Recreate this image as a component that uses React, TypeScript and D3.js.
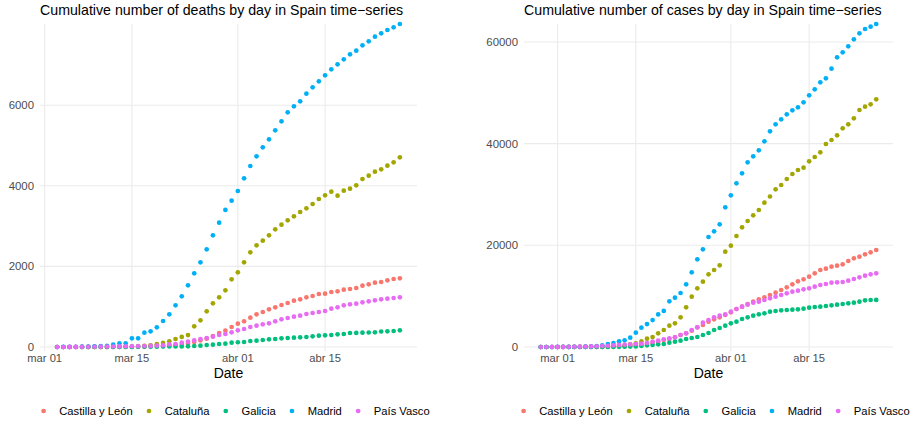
import React from "react";
import * as d3 from "d3";

const REGIONS = ["Castilla y León", "Cataluña", "Galicia", "Madrid", "País Vasco"];
const COLORS = ["#F8766D", "#A3A500", "#00BF7D", "#00B0F6", "#E76BF3"];

const X_TICK_DATES = ["2020-03-01", "2020-03-15", "2020-04-01", "2020-04-15"];
const X_TICK_LABELS = ["mar 01", "mar 15", "abr 01", "abr 15"];

// Deaths: daily from 2020-03-03 to 2020-04-27
const DEATHS_START = "2020-03-03";
const deathsCastilla = [0,0,0,0,0,0,1,2,3,3,5,5,6,10,12,17,22,30,40,48,
  58,83,124,165,207,273,347,405,496,579,637,728,810,868,935,984,1042,1092,1150,1183,1232,1265,1315,1323,1365,1381,1422,1439,1464,1522,1555,1596,1613,1654,1687,1704];
const deathsCataluna = [0,0,0,0,1,1,2,3,3,5,5,10,12,15,28,40,
  70,100,140,198,250,295,513,662,885,1083,1232,1406,1679,1852,2100,2349,2522,2638,2770,2919,3035,3143,3242,3349,3440,3548,3672,3763,3854,3755,3879,3928,4011,4168,4251,4350,4408,4499,4582,4706];
const deathsGalicia = [0,0,0,0,0,0,0,1,1,1,1,2,3,4,5,6,8,10,12,14,15,
  17,25,33,50,58,74,83,108,118,124,149,157,174,190,198,215,223,232,240,248,265,281,289,298,314,323,347,350,355,360,364,385,389,397,414];
const deathsMadrid = [0,1,2,4,8,13,16,21,31,58,91,91,
  215,215,356,389,488,645,810,1034,1257,1530,1828,2100,2423,2770,3085,3400,3630,3870,4185,4491,4731,4954,5152,5376,5599,5822,5971,6095,6285,6442,6591,6740,6889,7013,7137,7261,7352,7484,7584,7699,7782,7865,7931,8014];
const deathsPaisVasco = [0,0,2,3,4,5,6,8,10,12,14,17,18,21,23,27,35,
  41,66,74,108,132,165,198,223,256,298,323,364,414,447,496,529,562,587,637,686,719,753,777,819,844,868,893,951,984,1034,1059,1075,1108,1133,1158,1183,1199,1216,1232];

// Cases: daily from 2020-02-27 to 2020-04-27
const CASES_START = "2020-02-27";
const casesCastilla = [0,0,0,1,2,3,5,8,11,16,23,30,45,70,100,150,220,300,420,
  590,846,1050,1377,1574,1900,2360,2690,3206,3870,4327,4980,5450,5840,6294,6820,7475,7930,8458,8910,9380,9770,10230,10680,11210,11740,12330,12920,13310,13830,14490,15146,15400,15800,15990,16260,16916,17440,17770,18230,18620,19080];
const casesCataluna = [0,0,1,3,6,12,15,24,28,49,75,101,124,156,260,316,509,715,1100,
  1639,1967,2688,3344,4196,4655,5836,7803,9901,11540,12850,14295,15150,16065,18750,19930,21835,23540,24785,25900,26949,28392,29600,31015,31867,33047,34031,34818,35277,36522,37375,38293,39932,40719,41637,43014,43801,44981,46620,47276,47735,48718];
const casesGalicia = [0,0,0,0,0,1,2,3,5,6,10,15,20,30,40,70,90,115,200,
  330,393,525,590,850,1050,1240,1574,1770,1967,2360,2750,3344,3740,4196,4655,4980,5510,5840,6160,6430,6620,6950,7080,7210,7278,7350,7410,7540,7737,7868,7930,8065,8200,8320,8458,8590,8720,8920,9180,9245,9260];
const casesMadrid = [0,0,1,5,10,15,29,49,80,140,200,328,590,787,1115,1311,1836,2820,3800,
  4500,5300,6400,7100,8983,9704,10622,12327,14688,17245,19212,21638,22753,24130,27474,29834,32195,34162,36326,37506,38686,40457,42424,43801,44784,45768,46555,47145,48128,49505,50686,52063,52849,54751,56980,57964,59144,60521,61701,62554,63013,63537];
const casesPaisVasco = [0,1,5,10,20,30,45,60,100,120,150,200,250,330,400,450,500,590,650,
  787,1050,1240,1510,1705,1900,2360,2690,3344,3870,4780,5310,5840,6160,6400,6950,7475,7930,8320,8715,8910,9245,9570,9900,10230,10560,10880,11080,11350,11540,11860,12195,12390,12650,12720,12785,13040,13375,13700,14030,14300,14490];

const DEATHS_TICKS = [0, 2000, 4000, 6000];
const CASES_TICKS = [0, 20000, 40000, 60000];

const FONT = "'Liberation Sans', Arial, Helvetica, sans-serif";
const W = 912;
const H = 424;

const parse = (s: string) => new Date(s + "T00:00:00Z");

function toPoints(start: string, series: number[][]) {
  const s = parse(start);
  const pts: { date: Date; value: number; k: number }[] = [];
  series.forEach((vals, k) => {
    vals.forEach((v, i) => pts.push({ date: d3.utcDay.offset(s, i), value: v, k }));
  });
  return pts;
}

let ctx: CanvasRenderingContext2D | null = null;
function measure(text: string, size: number) {
  if (!ctx) ctx = document.createElement("canvas").getContext("2d");
  if (!ctx) return text.length * size * 0.5;
  ctx.font = `${size}px ${FONT}`;
  return ctx.measureText(text).width;
}

type PanelProps = {
  title: string;
  start: string;
  series: number[][];
  yTicks: number[];
  x0: number;
  x1: number;
};

const Y_TOP = 24;
const Y_ZERO = 347;
const PANEL_BOTTOM = 351;
const R = 2.35;

function Panel({ title, start, series, yTicks, x0, x1 }: PanelProps) {
  const pts = toPoints(start, series);
  const ext = d3.extent(pts, (d) => d.date) as [Date, Date];
  const span = ext[1].getTime() - ext[0].getTime();
  const x = d3
    .scaleUtc()
    .domain([new Date(ext[0].getTime() - span * 0.05), new Date(ext[1].getTime() + span * 0.05)])
    .range([x0, x1]);
  const ymax = d3.max(pts, (d) => d.value) as number;
  const y = d3.scaleLinear().domain([0, ymax]).range([Y_ZERO, Y_TOP]);
  const cx = (x0 + x1) / 2;

  // legend layout
  const LS = 11.2;
  const items = REGIONS.map((r) => ({ r, w: measure(r, LS) }));
  const gapDotText = 15.7;
  const gapTextDot = 16.3;
  let total = 0;
  items.forEach((it, i) => {
    total += gapDotText + it.w + (i < items.length - 1 ? gapTextDot : 0);
  });
  const lx0 = cx + 7 - (total + 2.2) / 2 + 2.2;
  let cur = lx0;
  const legendPos = items.map((it) => {
    const p = { dot: cur, text: cur + gapDotText };
    cur = cur + gapDotText + it.w + gapTextDot;
    return p;
  });

  return (
    <g>
      <text x={x0} y={15} fontFamily={FONT} fontSize={14.2} fill="#000">
        {title}
      </text>
      {yTicks.map((t) => (
        <line key={"h" + t} x1={x0} x2={x1} y1={y(t)} y2={y(t)} stroke="#EBEBEB" strokeWidth={1.07} />
      ))}
      {X_TICK_DATES.map((t) => (
        <line key={"v" + t} x1={x(parse(t))} x2={x(parse(t))} y1={Y_TOP} y2={PANEL_BOTTOM} stroke="#EBEBEB" strokeWidth={1.07} />
      ))}
      {yTicks.map((t) => (
        <text key={"yl" + t} x={x0 - 6} y={y(t) + 4} textAnchor="end" fontFamily={FONT} fontSize={11.4} fill="#4D4D4D">
          {t}
        </text>
      ))}
      {X_TICK_DATES.map((t, i) => (
        <text key={"xl" + t} x={x(parse(t))} y={362} textAnchor="middle" fontFamily={FONT} fontSize={11.2} fill="#4D4D4D">
          {X_TICK_LABELS[i]}
        </text>
      ))}
      <text x={cx} y={377.5} textAnchor="middle" fontFamily={FONT} fontSize={14} fill="#000">
        Date
      </text>
      {pts.map((p, i) => (
        <circle key={i} cx={x(p.date)} cy={y(p.value)} r={R} fill={COLORS[p.k]} />
      ))}
      {items.map((it, i) => (
        <g key={"lg" + i}>
          <circle cx={legendPos[i].dot} cy={411} r={R} fill={COLORS[i]} />
          <text x={legendPos[i].text} y={415} fontFamily={FONT} fontSize={LS} fill="#000">
            {it.r}
          </text>
        </g>
      ))}
    </g>
  );
}

export default function App() {
  return (
    <svg
      width={W}
      height={H}
      viewBox={`0 0 ${W} ${H}`}
      style={{ position: "absolute", left: 0, top: 0, background: "#fff" }}
    >
      <rect x={0} y={0} width={W} height={H} fill="#fff" />
      <Panel
        title="Cumulative number of deaths by day in Spain time−series"
        start={DEATHS_START}
        series={[deathsCastilla, deathsCataluna, deathsGalicia, deathsMadrid, deathsPaisVasco]}
        yTicks={DEATHS_TICKS}
        x0={40}
        x1={417}
      />
      <Panel
        title="Cumulative number of cases by day in Spain time−series"
        start={CASES_START}
        series={[casesCastilla, casesCataluna, casesGalicia, casesMadrid, casesPaisVasco]}
        yTicks={CASES_TICKS}
        x0={524}
        x1={893}
      />
    </svg>
  );
}
